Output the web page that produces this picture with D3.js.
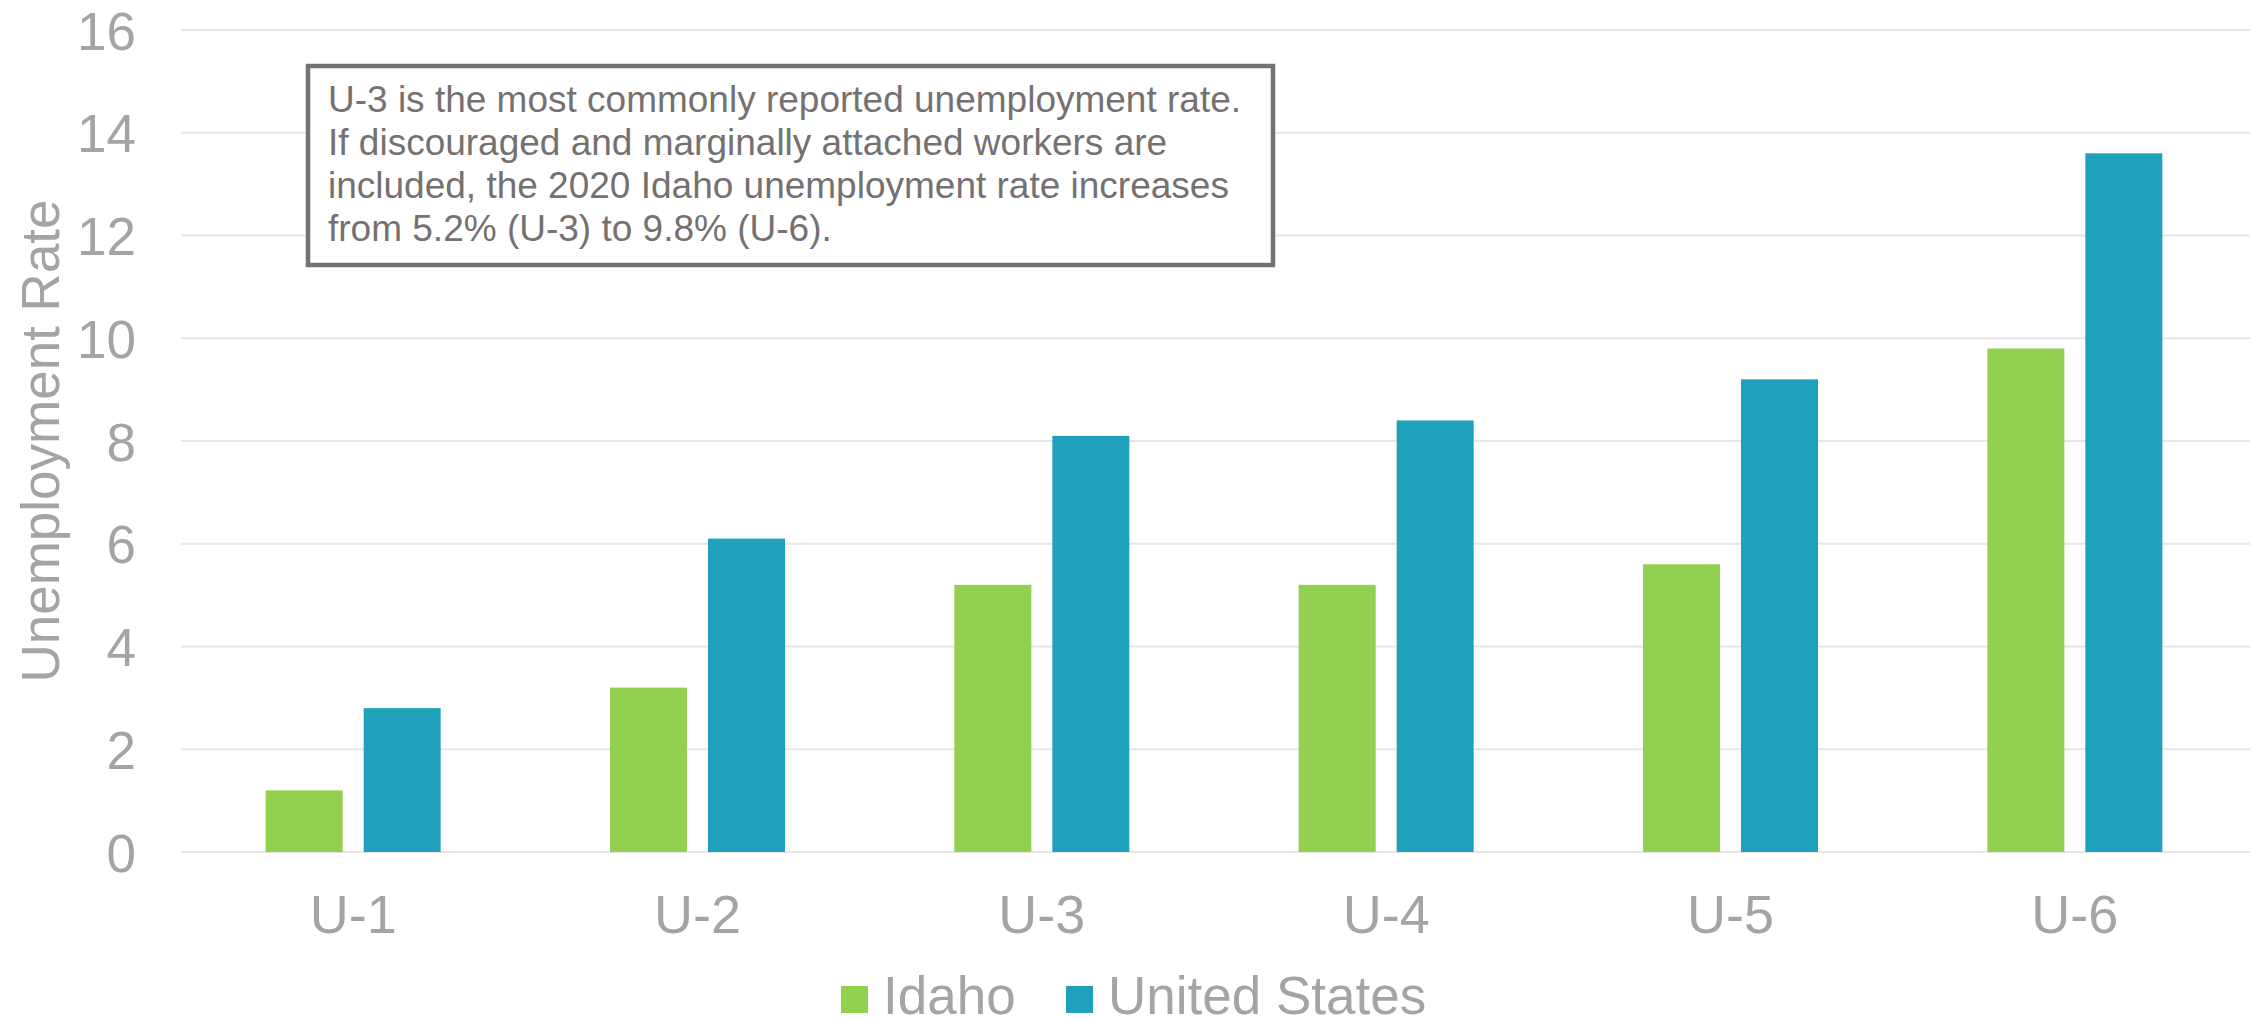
<!DOCTYPE html>
<html>
<head>
<meta charset="utf-8">
<script src="https://cdn.jsdelivr.net/npm/d3@7"></script>
<style>
  body { margin: 0; background: #fff; }
  text { font-family: "Liberation Sans", Arial, sans-serif; }
</style>
</head>
<body>
<script>
const width = 2252, height = 1021;

// data
const categories = ["U-1", "U-2", "U-3", "U-4", "U-5", "U-6"];
const seriesNames = ["Idaho", "United States"];
const idaho = [1.2, 3.2, 5.2, 5.2, 5.6, 9.8];
const unitedStates = [2.8, 6.1, 8.1, 8.4, 9.2, 13.6];
const yTicks = [0, 2, 4, 6, 8, 10, 12, 14, 16];
const noteLines = [
  "U-3 is the most commonly reported unemployment rate.",
  "If discouraged and marginally attached workers are",
  "included, the 2020 Idaho unemployment rate increases",
  "from 5.2% (U-3) to 9.8% (U-6)."
];

const colors = ["#92d050", "#1fa1bb"];
const labelColor = "#a6a3a3";

const svg = d3.select("body").append("svg")
  .attr("width", width)
  .attr("height", height);

const x0 = d3.scaleBand().domain(categories).range([181, 2247]);
const groupW = 175;
const x1 = d3.scaleBand().domain(seriesNames)
  .range([(x0.step() - groupW) / 2, (x0.step() + groupW) / 2])
  .paddingInner(0.2143);
const y = d3.scaleLinear().domain([0, 16]).range([852, 30]);

// gridlines
svg.append("g")
  .selectAll("line")
  .data(yTicks)
  .enter()
  .append("line")
  .attr("x1", 181)
  .attr("x2", 2250)
  .attr("y1", d => y(d))
  .attr("y2", d => y(d))
  .attr("stroke", "#e6e6e6")
  .attr("stroke-width", 2);

// y axis labels
const yAxis = svg.append("g")
  .attr("transform", "translate(136,0)")
  .call(d3.axisLeft(y).tickValues(yTicks).tickSize(0).tickPadding(0));
yAxis.select(".domain").remove();
yAxis.selectAll("text")
  .attr("font-size", 53)
  .attr("fill", labelColor)
  .attr("dy", "0.36em")
  .style("font-family", "'Liberation Sans', Arial, sans-serif");

// bars
const rows = categories.map((c, i) => ({ cat: c, values: [idaho[i], unitedStates[i]] }));
const groups = svg.append("g")
  .selectAll("g")
  .data(rows)
  .enter()
  .append("g")
  .attr("transform", d => "translate(" + x0(d.cat) + ",0)");

groups.selectAll("rect")
  .data(d => d.values.map((v, j) => ({ name: seriesNames[j], value: v, j: j })))
  .enter()
  .append("rect")
  .attr("x", d => x1(d.name))
  .attr("width", x1.bandwidth())
  .attr("y", d => y(d.value))
  .attr("height", d => y(0) - y(d.value))
  .attr("fill", d => colors[d.j]);

// x axis labels
const xAxis = svg.append("g")
  .attr("transform", "translate(0,852)")
  .call(d3.axisBottom(x0).tickSize(0).tickPadding(0));
xAxis.select(".domain").remove();
xAxis.selectAll("text")
  .attr("font-size", 54)
  .attr("fill", labelColor)
  .attr("dy", 0)
  .attr("y", 81)
  .style("font-family", "'Liberation Sans', Arial, sans-serif");

// y axis title
svg.append("text")
  .attr("transform", "translate(59,441) rotate(-90)")
  .attr("text-anchor", "middle")
  .attr("font-size", 53)
  .attr("fill", labelColor)
  .text("Unemployment Rate");

// legend
const legendItems = [
  { name: seriesNames[0], sx: 841, tx: 883 },
  { name: seriesNames[1], sx: 1066, tx: 1108 }
];
const legend = svg.append("g");
legend.selectAll("rect")
  .data(legendItems)
  .enter()
  .append("rect")
  .attr("x", d => d.sx)
  .attr("y", 986)
  .attr("width", 27)
  .attr("height", 27)
  .attr("fill", (d, i) => colors[i]);
legend.selectAll("text")
  .data(legendItems)
  .enter()
  .append("text")
  .attr("x", d => d.tx)
  .attr("y", 1014)
  .attr("font-size", 53)
  .attr("fill", labelColor)
  .text(d => d.name);

// annotation box
const note = svg.append("g");
note.append("rect")
  .attr("x", 308)
  .attr("y", 66)
  .attr("width", 965)
  .attr("height", 199)
  .attr("fill", "#fff")
  .attr("stroke", "#767171")
  .attr("stroke-width", 4.5);
note.selectAll("text")
  .data(noteLines)
  .enter()
  .append("text")
  .attr("x", 328)
  .attr("y", (d, i) => 112 + i * 43)
  .attr("font-size", 37)
  .attr("fill", "#757171")
  .text(d => d);
</script>
</body>
</html>
